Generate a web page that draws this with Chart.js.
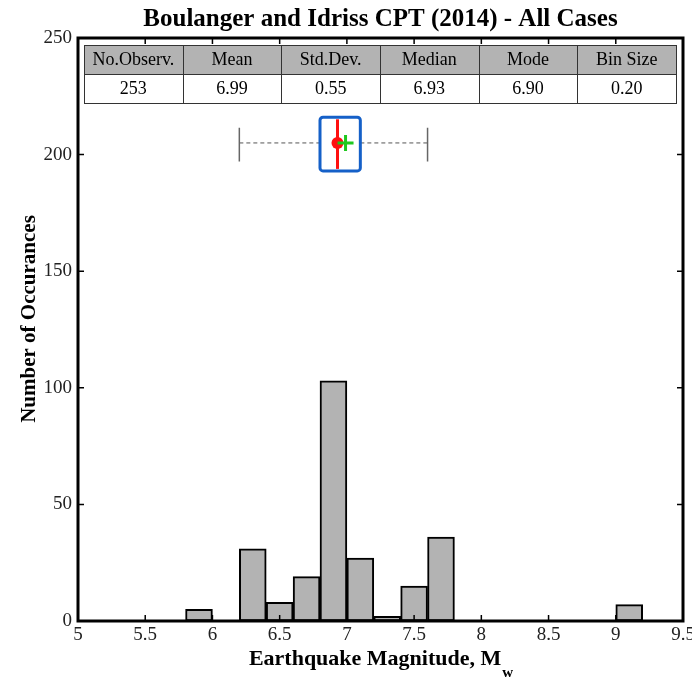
<!DOCTYPE html>
<html>
<head>
<meta charset="utf-8">
<script src="https://cdn.jsdelivr.net/npm/chart.js@4"></script>
<style>
  html, body { margin: 0; padding: 0; background: #fff; }
  #wrap { position: relative; width: 692px; height: 682px; }
</style>
</head>
<body>
<div id="wrap"><canvas id="histChart" width="692" height="682"></canvas></div>
<script>
// histogram bins (left edge, width 0.2) and counts
var binStarts = [5.8, 6.0, 6.2, 6.4, 6.6, 6.8, 7.0, 7.2, 7.4, 7.6, 7.8, 8.0, 8.2, 8.4, 8.6, 8.8, 9.0];
var binCounts = [5, 0, 31, 8, 19, 103, 27, 2, 15, 36, 0, 0, 0, 0, 0, 0, 7];
var binSize = 0.2;

var xTicks = [5, 5.5, 6, 6.5, 7, 7.5, 8, 8.5, 9, 9.5];
var yTicks = [0, 50, 100, 150, 200, 250];

// summary table
var statHeaders = ["No.Observ.", "Mean", "Std.Dev.", "Median", "Mode", "Bin Size"];
var statValues = ["253", "6.99", "0.55", "6.93", "6.90", "0.20"];

// box plot: whiskers, quartiles, median, mean
var boxWhiskers = [6.2, 7.6];
var boxQuartiles = [6.8, 7.1];
var boxMedian = 6.93;
var boxMean = 6.99;
var boxLevel = 205;

var SERIF = "'Liberation Serif', 'Times New Roman', serif";

var barData = [];
binStarts.forEach(function (s, i) {
  if (binCounts[i] > 0) barData.push({ x: s + binSize / 2, y: binCounts[i] });
});

var decor = {
  id: "decor",
  afterDatasetsDraw: function (chart) {
    var ctx = chart.ctx;
    var a = chart.chartArea;
    var xs = chart.scales.x;
    var ys = chart.scales.y;

    ctx.save();

    // table
    var tL = a.left + 6, tR = a.right - 7;
    var tT = a.top + 7, rowH = 29;
    var colW = (tR - tL) / statHeaders.length;
    ctx.fillStyle = "#b3b3b3";
    ctx.fillRect(tL, tT, tR - tL, rowH);
    ctx.fillStyle = "#fff";
    ctx.fillRect(tL, tT + rowH, tR - tL, rowH);
    ctx.strokeStyle = "#333";
    ctx.lineWidth = 1;
    ctx.strokeRect(tL + 0.5, tT + 0.5, tR - tL, rowH * 2);
    ctx.beginPath();
    ctx.moveTo(tL, tT + rowH + 0.5);
    ctx.lineTo(tR, tT + rowH + 0.5);
    for (var c = 1; c < statHeaders.length; c++) {
      var cx = Math.round(tL + c * colW) + 0.5;
      ctx.moveTo(cx, tT);
      ctx.lineTo(cx, tT + rowH * 2);
    }
    ctx.stroke();
    ctx.fillStyle = "#000";
    ctx.font = "18px " + SERIF;
    ctx.textAlign = "center";
    ctx.textBaseline = "middle";
    statHeaders.forEach(function (h, i) {
      var mx = tL + (i + 0.5) * colW;
      ctx.fillText(h, mx, tT + rowH / 2 + 1);
      ctx.fillText(statValues[i], mx, tT + rowH * 1.5 + 1);
    });

    // box plot
    var yc = ys.getPixelForValue(boxLevel);
    var wL = xs.getPixelForValue(boxWhiskers[0]);
    var wR = xs.getPixelForValue(boxWhiskers[1]);
    var q1 = xs.getPixelForValue(boxQuartiles[0]);
    var q3 = xs.getPixelForValue(boxQuartiles[1]);
    var bTop = ys.getPixelForValue(216);
    var bBot = ys.getPixelForValue(193);
    var wTop = ys.getPixelForValue(211.5);
    var wBot = ys.getPixelForValue(197);

    ctx.strokeStyle = "#555";
    ctx.lineWidth = 1;
    ctx.setLineDash([4, 3]);
    ctx.beginPath();
    ctx.moveTo(wL, yc); ctx.lineTo(q1, yc);
    ctx.moveTo(q3, yc); ctx.lineTo(wR, yc);
    ctx.stroke();
    ctx.setLineDash([]);
    ctx.strokeStyle = "#666";
    ctx.lineWidth = 1.5;
    ctx.beginPath();
    ctx.moveTo(wL, wTop); ctx.lineTo(wL, wBot);
    ctx.moveTo(wR, wTop); ctx.lineTo(wR, wBot);
    ctx.stroke();

    ctx.strokeStyle = "#1560c8";
    ctx.lineWidth = 3;
    ctx.beginPath();
    ctx.roundRect(q1, bTop, q3 - q1, bBot - bTop, 3);
    ctx.stroke();

    var mdx = xs.getPixelForValue(boxMedian);
    ctx.strokeStyle = "#ff1010";
    ctx.lineWidth = 3;
    ctx.beginPath();
    ctx.moveTo(mdx, bTop + 2); ctx.lineTo(mdx, bBot - 2);
    ctx.stroke();
    ctx.fillStyle = "#ff1010";
    ctx.beginPath();
    ctx.arc(mdx, yc, 6, 0, Math.PI * 2);
    ctx.fill();

    var mnx = xs.getPixelForValue(boxMean);
    ctx.strokeStyle = "#1ec81e";
    ctx.lineWidth = 3;
    ctx.beginPath();
    ctx.moveTo(mnx - 8, yc); ctx.lineTo(mnx + 8, yc);
    ctx.moveTo(mnx, yc - 8); ctx.lineTo(mnx, yc + 8);
    ctx.stroke();

    // frame and inward ticks
    ctx.strokeStyle = "#000";
    ctx.lineWidth = 1.5;
    ctx.beginPath();
    xTicks.forEach(function (v) {
      var px = xs.getPixelForValue(v);
      ctx.moveTo(px, a.bottom); ctx.lineTo(px, a.bottom - 6);
      ctx.moveTo(px, a.top); ctx.lineTo(px, a.top + 6);
    });
    yTicks.forEach(function (v) {
      var py = ys.getPixelForValue(v);
      ctx.moveTo(a.left, py); ctx.lineTo(a.left + 6, py);
      ctx.moveTo(a.right, py); ctx.lineTo(a.right - 6, py);
    });
    ctx.stroke();
    ctx.lineWidth = 3;
    ctx.strokeRect(a.left, a.top, a.right - a.left, a.bottom - a.top);

    // titles
    ctx.fillStyle = "#000";
    ctx.textAlign = "center";
    ctx.textBaseline = "alphabetic";
    ctx.font = "bold 25px " + SERIF;
    ctx.fillText("Boulanger and Idriss CPT (2014) - All Cases", (a.left + a.right) / 2, 26);

    ctx.font = "bold 22px " + SERIF;
    var main = "Earthquake Magnitude, M";
    var mw = ctx.measureText(main).width;
    ctx.font = "bold 15px " + SERIF;
    var sw = ctx.measureText("w").width;
    var sx = (a.left + a.right) / 2 - (mw + sw) / 2;
    ctx.textAlign = "left";
    ctx.font = "bold 22px " + SERIF;
    ctx.fillText(main, sx, 665);
    ctx.font = "bold 15px " + SERIF;
    ctx.fillText("w", sx + mw + 1, 677);

    ctx.font = "bold 21px " + SERIF;
    ctx.textAlign = "center";
    ctx.translate(35, 319);
    ctx.rotate(-Math.PI / 2);
    ctx.fillText("Number of Occurances", 0, 0);

    ctx.restore();
  }
};

new Chart(document.getElementById("histChart"), {
  type: "bar",
  data: {
    datasets: [{
      label: "Occurances",
      data: barData,
      backgroundColor: "#b3b3b3",
      borderColor: "#000",
      borderWidth: 2,
      borderSkipped: false,
      barPercentage: 1,
      categoryPercentage: 1
    }]
  },
  plugins: [decor],
  options: {
    responsive: false,
    animation: false,
    layout: { padding: { top: 38, right: 9, left: 0, bottom: 0 } },
    plugins: { legend: { display: false }, tooltip: { enabled: false } },
    scales: {
      x: {
        type: "linear",
        min: 5,
        max: 9.5,
        offset: false,
        grid: { display: false, drawTicks: false },
        border: { display: false },
        afterBuildTicks: function (s) { s.ticks = xTicks.map(function (v) { return { value: v }; }); },
        afterFit: function (s) { s.height = 61; s.paddingLeft = 0; s.paddingRight = 0; },
        ticks: {
          autoSkip: false,
          maxRotation: 0,
          padding: 3,
          color: "#222",
          font: { family: SERIF, size: 19 },
          callback: function (v) { return String(v); }
        }
      },
      y: {
        min: 0,
        max: 250,
        grid: { display: false, drawTicks: false },
        border: { display: false },
        afterBuildTicks: function (s) { s.ticks = yTicks.map(function (v) { return { value: v }; }); },
        afterFit: function (s) { s.width = 78; s.paddingTop = 0; s.paddingBottom = 0; },
        ticks: {
          padding: 6,
          color: "#222",
          font: { family: SERIF, size: 19 }
        }
      }
    }
  }
});
</script>
</body>
</html>
